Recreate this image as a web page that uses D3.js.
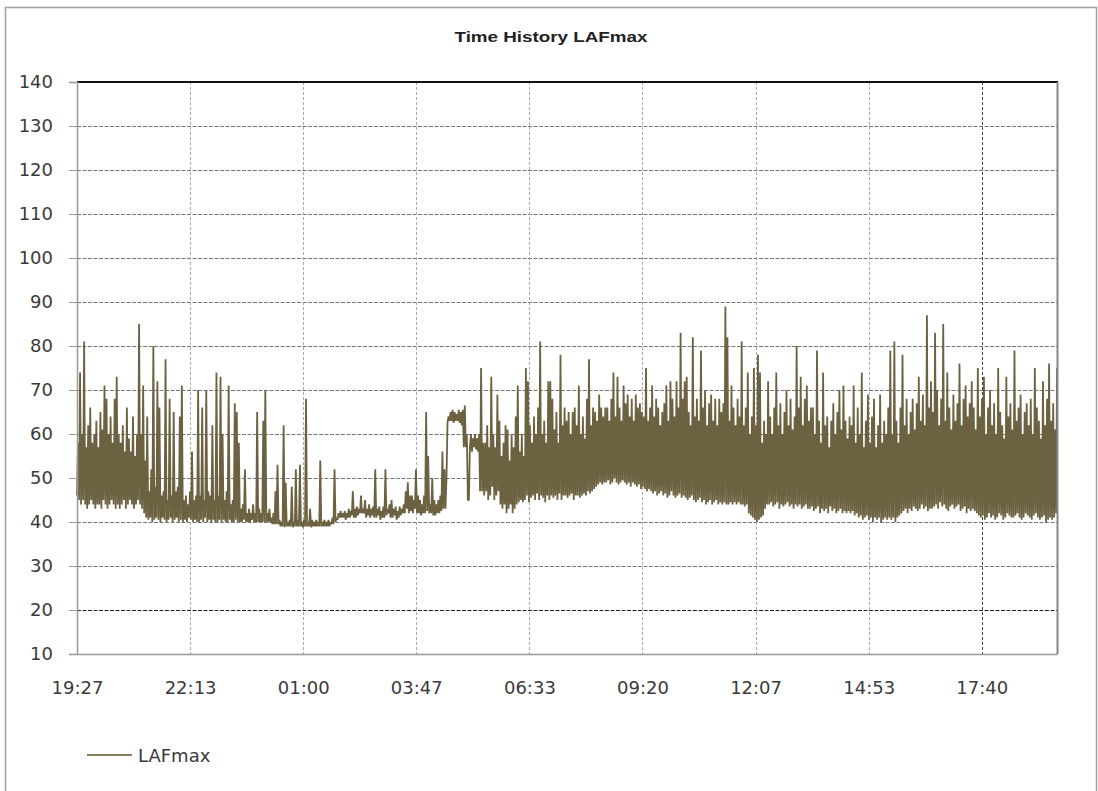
<!DOCTYPE html>
<html>
<head>
<meta charset="utf-8">
<script src="https://cdn.jsdelivr.net/npm/d3@7"></script>
<style>
  html, body { margin: 0; padding: 0; background: #fff; }
  svg { display: block; }
</style>
</head>
<body>
<svg id="chart" width="1098" height="791"></svg>
<script>
// ---------------- data ----------------
const chartTitle = "Time History LAFmax";
const seriesName = "LAFmax";
const stepSeconds = 180;                  // each value pair covers a 3-minute interval
const xDomainSeconds = [0, 86650];        // axis span in seconds from 19:26:40
const xTickSeconds = [0, 10000, 20000, 30000, 40000, 50000, 60000, 70000, 80000];
const xTickLabels = ["19:27", "22:13", "01:00", "03:47", "06:33", "09:20", "12:07", "14:53", "17:40"];
const yTicks = [10, 20, 30, 40, 50, 60, 70, 80, 90, 100, 110, 120, 130, 140];
const yDomain = [10, 140];

// lowest LAFmax reading within each 3-minute interval
const lafmaxLow = [
  46, 45, 44, 45, 44, 43, 44, 45, 44, 43, 44, 44, 43, 45, 44, 43, 44, 45, 44, 43,
  44, 43, 44, 45, 43, 44, 45, 44, 43, 44, 45, 44, 43, 42, 41, 40.5, 41, 40, 40.5, 41,
  40.5, 40, 41, 40.5, 40, 40.5, 41, 40, 40.5, 41, 40, 40.5, 40, 40.5, 40, 41, 40.5, 40, 40.5, 40,
  40, 40.5, 40, 41, 40, 40.5, 40, 40.5, 40, 40, 40.5, 40, 40.5, 40, 40, 40.5, 40, 40, 40.5, 40,
  40, 40, 40.5, 40, 40, 40, 40.5, 40, 40, 40, 40, 40, 40, 40, 40, 40, 39.5, 39.5, 39.5, 39.5,
  39, 39, 38.8, 39, 39, 39, 38.8, 39, 39, 39, 39, 38.8, 39, 39, 39, 38.8, 39, 39, 39, 39,
  39, 39, 39, 39, 39, 39.5, 39.5, 40, 40.5, 41, 41, 41, 40.5, 41, 41, 41.5, 41, 41, 41.5, 42,
  42, 42, 41, 41.5, 41, 41.5, 41, 41, 41.5, 40.5, 41, 41, 41.5, 42, 41, 41, 41.5, 40.5, 41, 41.5,
  42, 42, 43, 42, 42.5, 42, 43, 42, 42, 41.5, 42, 42, 42.5, 42, 42, 41.5, 41.5, 42, 42, 42.5,
  43, 43, 62.5, 63, 63, 62.5, 63, 63, 62.5, 62, 57, 57, 45, 57, 56, 57, 56.5, 56, 47, 47,
  46, 47, 45, 46, 48, 45, 46, 47, 44, 43, 44, 42, 43, 44, 42, 43, 44, 44.5, 45, 44.5,
  45, 46, 44.5, 45.5, 46, 45, 46.5, 45, 46, 45.5, 44.5, 46, 45, 46, 45.5, 46, 45, 46.5, 45, 46,
  46, 45.5, 46, 46.5, 45, 46, 46, 45.5, 46, 46.5, 46, 47, 46.5, 47, 47.5, 48, 48.5, 49, 48.5, 49,
  49, 49.5, 48.5, 49, 50, 49, 48.5, 49, 49.5, 49, 48.5, 49, 48, 49, 48.5, 48, 48.5, 47.5, 48, 47.5,
  47, 47.5, 47, 46.5, 47, 46, 46.5, 47, 46, 46.5, 45.5, 46, 47, 46, 45.5, 46, 46.5, 45.5, 46, 45.5,
  45, 45.5, 46, 45, 44.5, 45, 45.5, 44.5, 45, 44, 44.5, 45, 44, 44.5, 45, 44, 44.5, 44, 44.5, 44,
  44, 44.5, 44, 44.5, 44, 44.5, 44, 44, 43.5, 44, 42, 41.5, 41, 40.5, 40, 40.5, 41, 41.5, 43, 44,
  44, 44.5, 43.5, 44, 44.5, 43, 44, 43.5, 44, 44.5, 43.5, 44, 43, 44, 43.5, 44, 43, 43.5, 44, 43,
  43, 43.5, 42.5, 43, 43.5, 42, 43, 42.5, 43, 42, 43.5, 42.5, 43, 42, 42.5, 43, 42, 42.5, 42, 42.5,
  42, 42.5, 41.5, 42, 41, 41.5, 40.5, 41, 41.5, 40.5, 41, 40, 41, 40.5, 41, 40, 40.5, 41, 40.5, 41,
  40.5, 41, 40, 41, 41.5, 42, 42.5, 43, 42, 43, 42.5, 43.5, 43, 42.5, 43, 44, 43, 43.5, 42.5, 43,
  43, 43.5, 44, 43, 44.5, 43.5, 44, 43, 42.5, 43.5, 44, 43, 43.5, 44, 42.5, 43, 43.5, 42, 43, 42.5,
  43, 42.5, 42, 41.5, 41, 41.5, 40.5, 41, 42, 41, 41.5, 40.5, 41, 42, 41.5, 40.5, 41, 42, 41.5, 41,
  41, 41.5, 42, 41, 40.5, 41, 42, 41.5, 41, 40.5, 41.5, 42, 41, 40.5, 41, 41.5, 40, 40.5, 41, 40.5, 41, 42
];

// highest LAFmax reading within each 3-minute interval
const lafmaxHigh = [
  58, 74, 60, 81, 57, 62, 66, 58, 60, 63, 57, 65, 61, 71, 68, 60, 64, 58, 68, 73,
  60, 58, 62, 56, 66, 59, 56, 64, 55, 60, 85, 60, 71, 54, 64, 47, 52, 80, 48, 72,
  66, 46, 47, 77, 45, 68, 46, 65, 47, 48, 64, 71, 45, 46, 44, 47, 56, 45, 46, 70,
  46, 66, 45, 70, 47, 46, 62, 45, 74, 46, 73, 60, 45, 47, 71, 44, 45, 67, 65, 58,
  43, 44, 52, 42, 43, 42, 44, 42, 65, 43, 42, 63, 70, 42, 43, 41, 42, 47, 53, 40.5,
  40, 62, 49, 40, 40.5, 48, 40, 52, 40.5, 53, 40, 40.5, 68, 40, 43, 40.5, 40, 40.5, 40, 54,
  40, 40.5, 40, 40.5, 40, 41, 52, 41, 42, 42.5, 42, 42.5, 42, 43, 42.5, 47, 43, 43.5, 43, 46,
  43, 45, 43, 44, 43, 43.5, 52, 43, 43.5, 42.5, 43.5, 52, 43, 44, 45, 43, 43.5, 42.5, 43.5, 43,
  44, 47, 49, 46, 46, 45, 52, 46, 45, 44, 46, 65, 55, 44, 50, 45, 44, 45, 46, 56,
  52, 50, 64, 65, 65.5, 65, 64.5, 65.5, 65, 65.5, 66.5, 60, 45, 60, 59, 60, 59, 60, 75, 58,
  58, 62, 57, 73, 60, 57, 69, 63, 55, 58, 62, 61, 54, 60, 57, 64, 71, 56, 60, 55,
  75, 72, 62, 58, 64, 60, 66, 81, 60, 63, 58, 72, 72, 68, 61, 65, 58, 78, 62, 66,
  63, 65, 60, 65, 66, 62, 71, 60, 64, 59, 68, 77, 62, 66, 65, 63, 69, 66, 64, 66,
  66, 63, 68, 74, 64, 73, 66, 63, 71, 67, 69, 64, 68, 63, 69, 66, 67, 65, 64, 75,
  63, 66, 71, 64, 68, 66, 62, 65, 67, 71, 63, 72, 68, 64, 72, 66, 83, 68, 72, 73,
  65, 62, 82, 64, 68, 63, 79, 66, 70, 62, 67, 69, 63, 68, 62, 68, 65, 67, 89, 82,
  63, 71, 66, 62, 68, 64, 81, 62, 66, 74, 60, 64, 75, 62, 78, 74, 58, 63, 60, 72,
  64, 60, 66, 74, 62, 67, 60, 65, 70, 62, 68, 61, 64, 80, 66, 73, 62, 68, 71, 63,
  66, 66, 60, 79, 63, 58, 74, 62, 64, 57, 63, 67, 60, 65, 70, 61, 71, 63, 59, 64,
  62, 71, 58, 66, 60, 74, 57, 63, 69, 58, 64, 68, 57, 62, 69, 58, 63, 60, 66, 79,
  60, 81, 63, 58, 66, 78, 62, 68, 60, 65, 68, 61, 67, 73, 63, 69, 62, 87, 66, 72,
  65, 83, 70, 62, 68, 85, 63, 74, 66, 61, 69, 63, 67, 76, 62, 68, 71, 64, 67, 72,
  66, 61, 75, 64, 68, 73, 60, 66, 70, 62, 67, 60, 75, 65, 62, 59, 73, 64, 67, 61,
  79, 63, 66, 69, 60, 65, 67, 62, 68, 60, 75, 66, 63, 59, 72, 62, 68, 76, 63, 67, 61, 75
];

// ---------------- layout ----------------
const plot = { left: 77, right: 1057, top: 82, bottom: 654 };
const lineColor = "#6c6241";
const font = "'DejaVu Sans', Verdana, sans-serif";

const svg = d3.select("#chart");

// outer frame
svg.append("rect")
  .attr("x", 5.5).attr("y", 7.5)
  .attr("width", 1091).attr("height", 800)
  .attr("fill", "#fff").attr("stroke", "#a0a0a0").attr("stroke-width", 1.5);

const x = d3.scaleLinear().domain(xDomainSeconds).range([plot.left, plot.right]);
const y = d3.scaleLinear().domain(yDomain).range([plot.bottom, plot.top]);

// horizontal gridlines
svg.append("g").selectAll("line")
  .data(yTicks.filter(v => v > yDomain[0] && v < yDomain[1]))
  .join("line")
  .attr("x1", plot.left).attr("x2", plot.right)
  .attr("y1", d => Math.round(y(d)) + 0.5).attr("y2", d => Math.round(y(d)) + 0.5)
  .attr("stroke", d => d === 20 ? "#222" : "#777")
  .attr("stroke-width", 1)
  .attr("stroke-dasharray", "4,1.5");

// vertical gridlines
svg.append("g").selectAll("line")
  .data(xTickSeconds.filter(v => v > 0))
  .join("line")
  .attr("x1", d => Math.round(x(d)) + 0.5).attr("x2", d => Math.round(x(d)) + 0.5)
  .attr("y1", plot.top).attr("y2", plot.bottom)
  .attr("stroke", d => d === 80000 ? "#444" : "#aaa")
  .attr("stroke-width", 1)
  .attr("stroke-dasharray", "3,2");

// series: within every interval the trace runs from its low to its high reading
const points = [];
lafmaxLow.forEach((lo, i) => {
  points.push({ t: i * stepSeconds, v: lo });
  points.push({ t: i * stepSeconds + stepSeconds / 2, v: lafmaxHigh[i] });
});

const line = d3.line()
  .x(d => x(Math.min(d.t, xDomainSeconds[1])))
  .y(d => y(d.v));

svg.append("path")
  .datum(points)
  .attr("d", line)
  .attr("fill", "none")
  .attr("stroke", lineColor)
  .attr("stroke-width", 1.8)
  .attr("stroke-linejoin", "bevel");

// plot borders
svg.append("line").attr("x1", plot.left).attr("x2", plot.right + 1)
  .attr("y1", plot.top).attr("y2", plot.top)
  .attr("stroke", "#111").attr("stroke-width", 2);
svg.append("line").attr("x1", plot.right + 0.5).attr("x2", plot.right + 0.5)
  .attr("y1", plot.top).attr("y2", plot.bottom)
  .attr("stroke", "#888").attr("stroke-width", 2);

// y axis
const yAxis = d3.axisLeft(y).tickValues(yTicks).tickSize(8).tickPadding(16).tickFormat(d3.format("d"));
const ya = svg.append("g").attr("transform", `translate(${plot.left},0)`).call(yAxis);
ya.select(".domain").attr("stroke", "#999").attr("stroke-width", 1.5);
ya.selectAll(".tick line").attr("stroke", "#999");
ya.selectAll(".tick text").attr("font-family", font).attr("font-size", 18).attr("fill", "#3a3a3a");

// x axis
const xAxis = d3.axisBottom(x).tickValues(xTickSeconds)
  .tickFormat((d, i) => xTickLabels[i]).tickSize(0).tickPadding(27);
const xa = svg.append("g").attr("transform", `translate(0,${plot.bottom})`).call(xAxis);
xa.select(".domain").attr("stroke", "#999").attr("stroke-width", 1.5);
xa.selectAll(".tick text").attr("font-family", font).attr("font-size", 18).attr("fill", "#3a3a3a");

// title
svg.append("text")
  .attr("x", 551).attr("y", 42)
  .attr("text-anchor", "middle")
  .attr("font-family", "'Liberation Sans', Arial, sans-serif")
  .attr("font-weight", "bold").attr("font-size", 14)
  .attr("textLength", 193).attr("lengthAdjust", "spacingAndGlyphs")
  .attr("fill", "#222")
  .text(chartTitle);

// legend
svg.append("line").attr("x1", 87).attr("x2", 132).attr("y1", 755).attr("y2", 755)
  .attr("stroke", "#8a7f5c").attr("stroke-width", 2);
svg.append("text").attr("x", 138).attr("y", 761.5)
  .attr("font-family", font).attr("font-size", 18).attr("fill", "#3a3a3a")
  .text(seriesName);
</script>
</body>
</html>
